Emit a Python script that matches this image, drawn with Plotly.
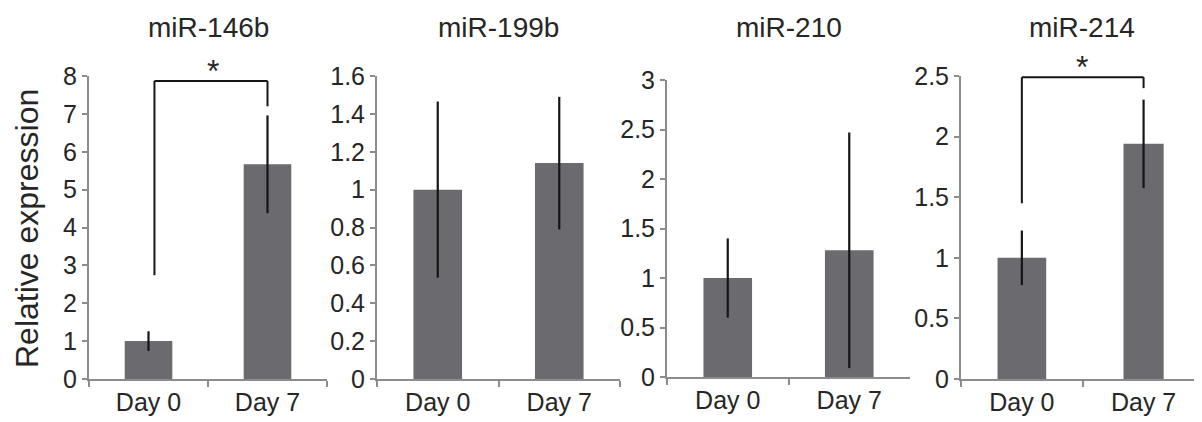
import plotly.graph_objects as go

categories = ["Day 0", "Day 7"]
titles = ["miR-146b", "miR-199b", "miR-210", "miR-214"]
values = [[1.0, 5.67], [1.0, 1.14], [1.0, 1.28], [1.0, 1.94]]
errors = [[0.26, 1.29], [0.465, 0.35], [0.40, 1.19], [0.225, 0.365]]
y_max = [8, 1.6, 3, 2.5]
y_step = [1, 0.2, 0.5, 0.5]
bar_widths = [[0.4, 0.4], [0.4, 0.4], [0.4, 0.4], [0.4, 0.33]]

# significance brackets: (panel, x_left, x_right, y_top, left_bottom, right_bottom, star_x)
brackets = [
    (0, 0.05, 1.0, 7.87, 2.74, 7.2, 0.54),
    (3, 0.0, 1.0, 2.49, 1.45, 2.4, 0.49),
]

# page body has an 8px margin; the figure is sized to end at the window edge
OFF = 8
VW, VH = 1202, 422
W, H = VW - OFF, VH - OFF


def fx(px):
    return (px - OFF) / W


def fy(py):
    return 1 - (py - OFF) / H


x_dom_px = [(89, 327), (377, 620), (667, 910), (961, 1202)]
y_dom_px = [(76, 379), (76, 379), (80, 377), (76, 379)]
x_ranges = [[-0.5, 1.5], [-0.5, 1.5], [-0.5, 1.5], [-0.5, 1.48]]

BAR = "#6a6a6f"
AXIS = "#8c8c8c"
TXT = "#262626"
FONT = "Liberation Sans, Arial, sans-serif"

fig = go.Figure()
layout = dict(
    template="none",
    width=W, height=H, autosize=False, margin=dict(l=0, r=0, t=0, b=0, pad=0),
    paper_bgcolor="white", plot_bgcolor="white", showlegend=False,
    font=dict(family=FONT, color=TXT),
)
annotations = []
shapes = []
for i in range(4):
    sfx = "" if i == 0 else str(i + 1)
    fig.add_trace(go.Bar(
        x=categories, y=values[i], width=bar_widths[i],
        marker=dict(color=BAR, line=dict(width=0)),
        error_y=dict(type="data", array=errors[i], visible=True,
                     color="#151515", thickness=2.2, width=0),
        xaxis="x" + sfx, yaxis="y" + sfx,
    ))
    x0, x1 = x_dom_px[i]
    yt, yb = y_dom_px[i]
    layout["xaxis" + sfx] = dict(
        domain=[fx(x0), fx(x1)], anchor="y" + sfx, type="category",
        range=x_ranges[i], showline=True, linecolor=AXIS, linewidth=2,
        ticks="outside", tickson="boundaries", ticklen=6, tickwidth=2,
        tickcolor=AXIS, showgrid=False, zeroline=False, automargin=False,
        tickfont=dict(size=25, color=TXT, family=FONT), fixedrange=True,
    )
    nt = int(round(y_max[i] / y_step[i]))
    tv = [round(k * y_step[i], 3) for k in range(nt + 1)]
    layout["yaxis" + sfx] = dict(
        domain=[fy(yb), fy(yt)], anchor="x" + sfx,
        range=[0, y_max[i]], showline=True, linecolor=AXIS, linewidth=2,
        ticks="outside", ticklen=5, tickwidth=2, tickcolor=AXIS,
        tickvals=tv, ticktext=[("%g" % v) for v in tv],
        showgrid=False, zeroline=False, automargin=False,
        tickfont=dict(size=25, color=TXT, family=FONT), fixedrange=True,
    )
    annotations.append(dict(
        text=titles[i], xref="paper", yref="paper",
        x=fx((x0 + x1) / 2), y=fy(28), xanchor="center", yanchor="middle",
        showarrow=False, font=dict(size=28, color=TXT, family=FONT),
    ))

for (p, xl, xr, yt, lb, rb, sx) in brackets:
    sfx = "" if p == 0 else str(p + 1)
    xr_ = "x" + sfx
    yr_ = "y" + sfx
    ln = dict(color="#151515", width=2)
    shapes.append(dict(type="line", xref=xr_, yref=yr_, x0=xl, x1=xl, y0=lb, y1=yt, line=ln))
    shapes.append(dict(type="line", xref=xr_, yref=yr_, x0=xl, x1=xr, y0=yt, y1=yt, line=ln))
    shapes.append(dict(type="line", xref=xr_, yref=yr_, x0=xr, x1=xr, y0=yt, y1=rb, line=ln))
    annotations.append(dict(
        text="*", xref=xr_, yref=yr_, x=sx, y=yt, xanchor="center", yanchor="middle",
        yshift=10, showarrow=False, font=dict(size=32, color=TXT, family=FONT),
    ))

annotations.append(dict(
    text="Relative expression", xref="paper", yref="paper",
    x=fx(27), y=fy(229), xanchor="center", yanchor="middle", textangle=-90,
    borderpad=0, showarrow=False, font=dict(size=32, color=TXT, family=FONT),
))

layout["annotations"] = annotations
layout["shapes"] = shapes
fig.update_layout(**layout)
fig.write_html("out.html")
